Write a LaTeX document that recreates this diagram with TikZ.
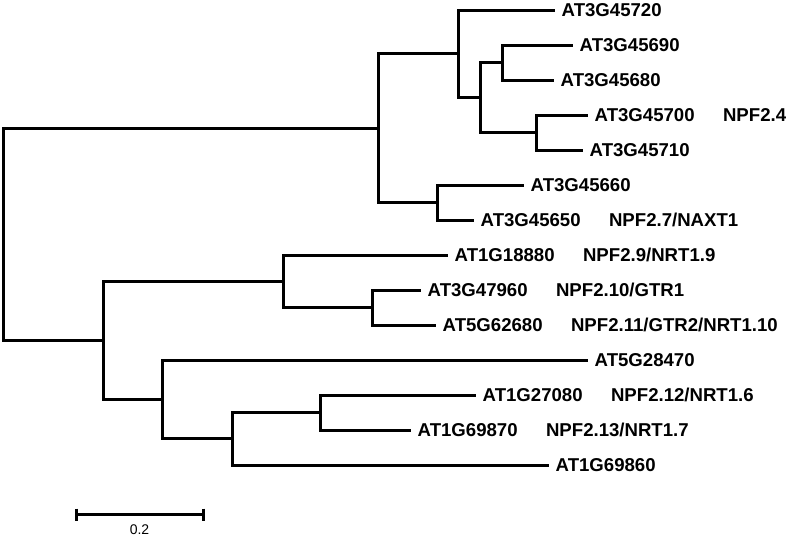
\documentclass[tikz,border=0pt]{standalone}
\usepackage{fontspec}
\setmainfont{Liberation Sans}
\begin{document}
\begin{tikzpicture}[x=1pt,y=-1pt,
  branch/.style={line width=3pt, line join=miter, line cap=butt},
  idlab/.style={font=\fontsize{18.6}{20}\selectfont\bfseries, inner sep=0pt, anchor=west},
  altlab/.style={font=\fontsize{18.6}{20}\selectfont\bfseries, inner sep=0pt, anchor=base west},
  scalelab/.style={font=\fontsize{14}{16}\selectfont, inner sep=0pt}]
\useasboundingbox (0,0) rectangle (789,538);

\begin{scope}[shift={(0.5,0.5)}]
% leaves (line ends)
\coordinate (l1)  at (554,10);
\coordinate (l2)  at (572,45);
\coordinate (l3)  at (553,80);
\coordinate (l4)  at (587,115);
\coordinate (l5)  at (582,150);
\coordinate (l6)  at (523,185);
\coordinate (l7)  at (473,220);
\coordinate (l8)  at (447,255);
\coordinate (l9)  at (420,290);
\coordinate (l10) at (435,325);
\coordinate (l11) at (587,360);
\coordinate (l12) at (475,395);
\coordinate (l13) at (410,430);
\coordinate (l14) at (548,465);

% internal nodes
\coordinate (J) at (502,62);
\coordinate (K) at (536,132);
\coordinate (I) at (480,97);
\coordinate (H) at (458,53);
\coordinate (L) at (437,202);
\coordinate (A) at (378,128);
\coordinate (D) at (372,307);
\coordinate (C) at (283,281);
\coordinate (G) at (320,412);
\coordinate (F) at (232,438);
\coordinate (E) at (162,399);
\coordinate (B) at (103,340);
\coordinate (R) at (3,234);

% scale bar ends
\coordinate (s1) at (76,514);
\coordinate (s2) at (203,514);
\end{scope}

% branches
\draw[branch] (l2) -| (J) |- (l3);
\draw[branch] (l4) -| (K) |- (l5);
\draw[branch] (J) -| (I) |- (K);
\draw[branch] (l1) -| (H) |- (I);
\draw[branch] (l6) -| (L) |- (l7);
\draw[branch] (H) -| (A) |- (L);
\draw[branch] (l9) -| (D) |- (l10);
\draw[branch] (l8) -| (C) |- (D);
\draw[branch] (l12) -| (G) |- (l13);
\draw[branch] (G) -| (F) |- (l14);
\draw[branch] (l11) -| (E) |- (F);
\draw[branch] (C) -| (B) |- (E);
\draw[branch] (A) -| (R) |- (B);

% labels
\node[idlab] (t1)  at ([xshift=7pt]l1)  {AT3G45720};
\node[idlab] (t2)  at ([xshift=7pt]l2)  {AT3G45690};
\node[idlab] (t3)  at ([xshift=7pt]l3)  {AT3G45680};
\node[idlab] (t4)  at ([xshift=7pt]l4)  {AT3G45700};
\node[idlab] (t5)  at ([xshift=7pt]l5)  {AT3G45710};
\node[idlab] (t6)  at ([xshift=7pt]l6)  {AT3G45660};
\node[idlab] (t7)  at ([xshift=7pt]l7)  {AT3G45650};
\node[idlab] (t8)  at ([xshift=7pt]l8)  {AT1G18880};
\node[idlab] (t9)  at ([xshift=7pt]l9)  {AT3G47960};
\node[idlab] (t10) at ([xshift=7pt]l10) {AT5G62680};
\node[idlab] (t11) at ([xshift=7pt]l11) {AT5G28470};
\node[idlab] (t12) at ([xshift=7pt]l12) {AT1G27080};
\node[idlab] (t13) at ([xshift=7pt]l13) {AT1G69870};
\node[idlab] (t14) at ([xshift=7pt]l14) {AT1G69860};

\node[altlab] (n4)  at ([xshift=28pt]t4.base east)  {NPF2.4};
\node[altlab] (n7)  at ([xshift=28pt]t7.base east)  {NPF2.7/NAXT1};
\node[altlab] (n8)  at ([xshift=28pt]t8.base east)  {NPF2.9/NRT1.9};
\node[altlab] (n9)  at ([xshift=28pt]t9.base east)  {NPF2.10/GTR1};
\node[altlab] (n10) at ([xshift=28pt]t10.base east) {NPF2.11/GTR2/NRT1.10};
\node[altlab] (n12) at ([xshift=28pt]t12.base east) {NPF2.12/NRT1.6};
\node[altlab] (n13) at ([xshift=28pt]t13.base east) {NPF2.13/NRT1.7};

% scale bar
\draw[branch] (s1) -- (s2);
\draw[branch] ([yshift=6pt]s1) -- ([yshift=-6pt]s1);
\draw[branch] ([yshift=6pt]s2) -- ([yshift=-6pt]s2);
\node[scalelab] (sl) at (139.5,529.5) {0.2};
\end{tikzpicture}
\end{document}
